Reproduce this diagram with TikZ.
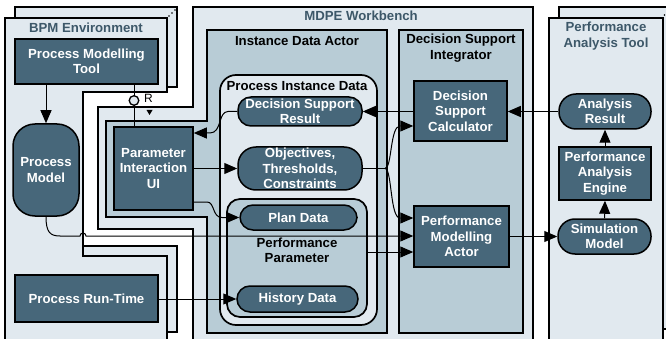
\documentclass[tikz,border=0pt]{standalone}
\usepackage{fontspec}
\setmainfont{Liberation Sans}
\usetikzlibrary{arrows.meta,calc}
\definecolor{lightbg}{RGB}{225,233,239}
\definecolor{midbg}{RGB}{184,204,214}
\definecolor{darkbox}{RGB}{71,103,122}
\definecolor{titlec}{RGB}{61,88,105}
\begin{document}
\begin{tikzpicture}[x=1pt,y=-1pt,
  frame/.style={draw=black, line width=1.7pt, fill=lightbg},
  region/.style={draw=black, line width=1.7pt, fill=midbg},
  agent/.style={draw=black, line width=1.5pt, fill=darkbox, text=white,
    font=\fontsize{13.2}{15.3}\selectfont\bfseries, align=center, inner sep=0pt},
  store/.style={agent, rounded corners=13pt},
  ftitle/.style={text=titlec, font=\fontsize{13.2}{15.3}\selectfont\bfseries, align=center, inner sep=0pt},
  rtitle/.style={text=black, font=\fontsize{13.2}{15.3}\selectfont\bfseries, align=center, inner sep=0pt},
  conn/.style={draw=black, line width=1pt},
  arr/.style={conn, -{Triangle[length=13pt,width=11pt]}},
]
\useasboundingbox (0,0) rectangle (666,339);
% BPM environment (stacked)
\draw[frame] (15,7) -- (177,7) -- (177,87) -- (83,87) -- (83,246) -- (177,246) -- (177,332) -- (15,332) -- cycle;
\draw[frame] (5,18) -- (167,18) -- (167,92) -- (83,92) -- (83,256) -- (167,256) -- (167,350) -- (5,350) -- cycle;
\fill (169,16) circle (0.9pt) (172,13) circle (0.9pt) (175,10) circle (0.9pt);
\node[ftitle] (bpmt) at (86,28) {BPM Environment};
% MDPE workbench
\draw[frame] (193,7) -- (533,7) -- (533,350) -- (193,350) -- (193,229) -- (98,229) -- (98,107) -- (193,107) -- cycle;
\node[ftitle] (mdpet) at (361,16) {MDPE Workbench};
% Instance data actor
\draw[region] (207,30) -- (387,30) -- (387,333) -- (207,333) -- (207,217) -- (106,217) -- (106,121) -- (207,121) -- cycle;
\node[rtitle] (idat) at (297,41) {Instance Data Actor};
% Decision support integrator
\draw[region] (399,30) rectangle (523,333);
\node[rtitle] (dsit) at (461,48) {Decision Support\\Integrator};
% Performance analysis tool (stacked)
\draw[frame] (559,7) rectangle (680,329);
\draw[frame] (549,18) rectangle (663,350);
\fill (664.5,15) circle (0.9pt);
\node[ftitle] (patt) at (606,36) {Performance\\Analysis Tool};
% Process instance data
\draw[draw=black, line width=1.7pt, fill=lightbg, rounded corners=16pt] (220,75) rectangle (377,325);
\node[rtitle] (pidt) at (297,86) {Process Instance Data};
\draw[draw=black, line width=1.7pt, fill=midbg, rounded corners=13pt] (227,199) rectangle (367,317);
\node[rtitle] (ppt) at (297,250) {Performance\\Parameter};
% agents and storages
\node[agent, minimum width=143pt, minimum height=45pt] (pmt) at (86.5,61.5) {Process Modelling\\Tool};
\node[agent, rounded corners=22pt, minimum width=66pt, minimum height=92pt] (pm) at (46,170) {Process\\Model};
\node[agent, minimum width=143pt, minimum height=47pt] (prt) at (86.5,298.5) {Process Run-Time};
\node[agent, minimum width=79pt, minimum height=83pt] (piu) at (153.5,168.5) {Parameter\\Interaction\\UI};
\node[store, minimum width=124pt, minimum height=29pt] (dsr) at (300,111.5) {Decision Support\\Result};
\node[store, rounded corners=18pt, minimum width=124pt, minimum height=43pt] (otc) at (300,168.5) {Objectives,\\Thresholds,\\Constraints};
\node[store, minimum width=117pt, minimum height=25pt] (pd) at (298.5,217.5) {Plan Data};
\node[store, minimum width=121pt, minimum height=26pt] (hd) at (297.5,299) {History Data};
\node[agent, minimum width=93pt, minimum height=60pt] (dsc) at (460.5,111) {Decision\\Support\\Calculator};
\node[agent, minimum width=95pt, minimum height=61pt] (pma) at (461.5,236.5) {Performance\\Modelling\\Actor};
\node[store, rounded corners=17pt, minimum width=92pt, minimum height=35pt] (ar) at (605,111.5) {Analysis\\Result};
\node[agent, minimum width=92pt, minimum height=53pt] (pae) at (605,173.5) {Performance\\Analysis\\Engine};
\node[store, rounded corners=17pt, minimum width=93pt, minimum height=35pt] (sm) at (604.5,236.5) {Simulation\\Model};
% connectors
\draw[arr] (pmt.south -| pm.north) -- (pm.north);
\coordinate (rc) at (134,100.5);
\draw[conn] (pmt.south -| rc) -- ($(rc)+(0,-4.5)$);
\draw[conn, line width=1.3pt, fill=lightbg] (rc) circle (4.8pt);
\draw[conn] ($(rc)+(0,4.8)$) -- (piu.north -| rc);
\node[inner sep=0pt, font=\fontsize{12}{13}\selectfont] (rl) at (148.5,98) {R};
\fill (146.5,110) -- (152.5,110) -- (149.5,115) -- cycle;
\draw[arr] (dsc.west |- dsr.east) -- (dsr.east);
\draw[arr] (dsr.west) -- (228,111.5) .. controls (218,111.5) and (222,133) .. (210,133) -- (piu.east |- 0,133);
\draw[arr] (piu.east |- otc.west) -- (otc.west);
\draw[arr] (piu.east |- 0,202) -- (207,202) .. controls (215,202) and (212,217.5) .. (222,217.5) -- (pd.west);
\draw[conn] (otc.east) -- (385,168.5);
\draw[arr] (385,168.5) .. controls (392,168.5) and (390,126) .. (400,126) -- (dsc.west |- 0,126);
\draw[arr] (385,168.5) .. controls (392,168.5) and (390,218) .. (400,218) -- (pma.west |- 0,218);
\draw[arr] (pm.south) .. controls (46,232) and (50,236) .. (60,236) -- (80,236) arc (180:360:3) -- (pma.west |- 0,236);
\draw[arr] (367,252) -- (pma.west |- 0,252);
\draw[arr] (prt.east |- hd.west) -- (hd.west);
\draw[arr] (pma.east) -- (sm.west);
\draw[arr] (sm.north) -- (pae.south);
\draw[arr] (pae.north) -- (ar.south);
\draw[arr] (ar.west) -- (dsc.east |- ar.west);
\end{tikzpicture}
\end{document}
